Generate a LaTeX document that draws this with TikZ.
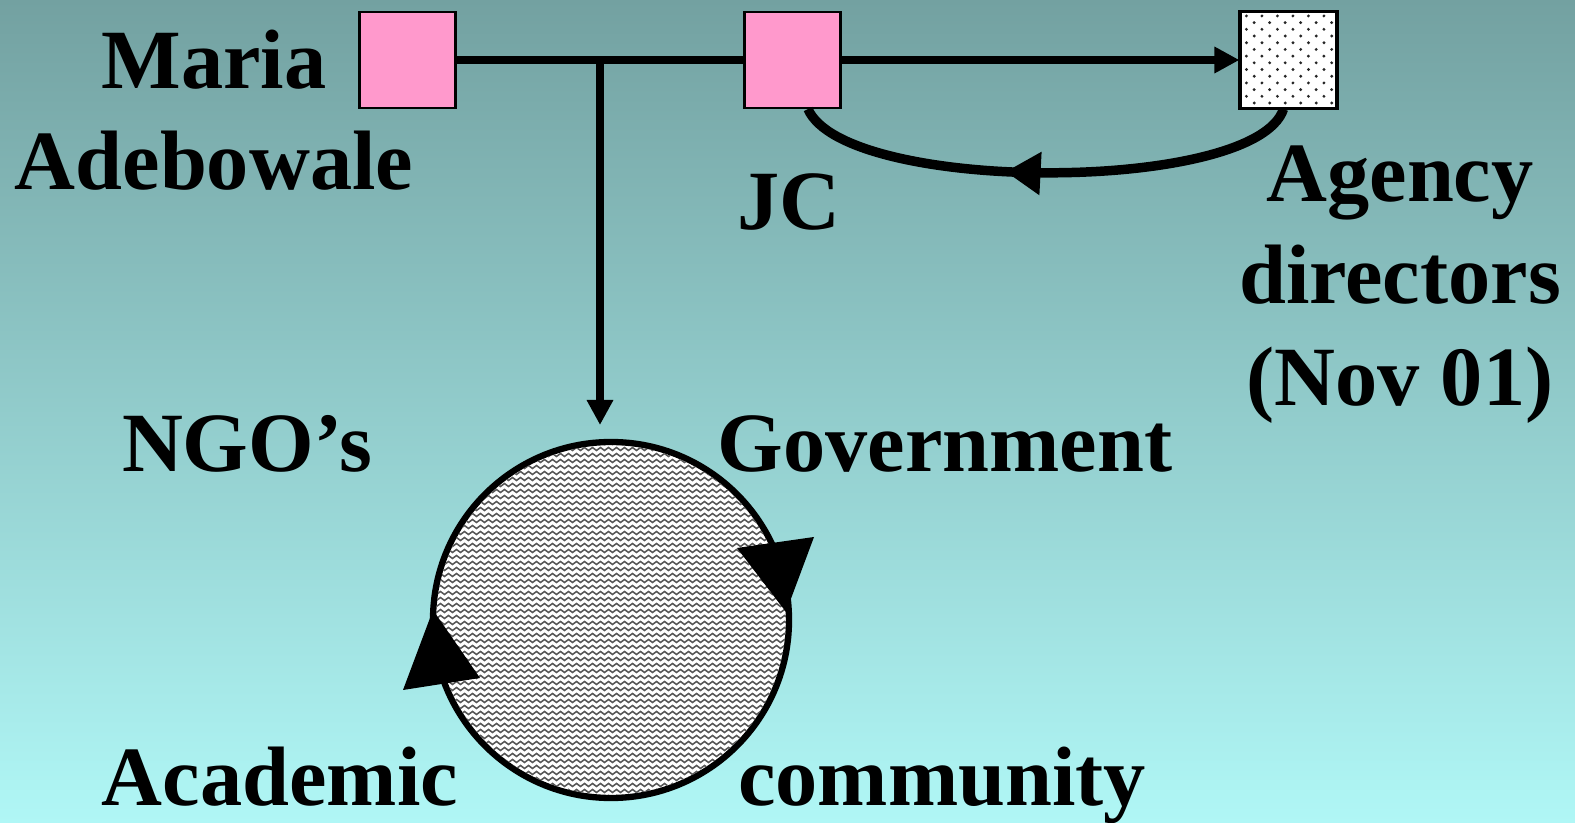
\documentclass[tikz,border=0pt]{standalone}
\usepackage{fontspec}
\setmainfont{Liberation Serif}
\usetikzlibrary{arrows.meta, positioning, calc, decorations.pathmorphing, decorations.markings}
\definecolor{bgtop}{HTML}{73A1A1}
\definecolor{bgbot}{HTML}{B0F7F6}
\definecolor{rosepink}{HTML}{FF99CC}

\begin{document}
\begin{tikzpicture}[
  sq/.style={rectangle, draw, line width=0.6pt, minimum size=0.96cm, inner sep=0pt},
  lbl/.style={align=center, anchor=base, inner sep=0pt, font=\fontsize{24}{29}\selectfont\bfseries},
  link/.style={line width=2.5pt},
  arr/.style={line width=2.5pt, -{Triangle[length=0.25cm, width=0.25cm]}},
  backarr/.style={line width=2.7pt, postaction={decorate},
    decoration={markings, mark=at position 0.58 with {\arrow{Triangle[length=0.35cm, width=0.41cm]}}}},
  wave/.style={black!65, line width=0.45pt, decorate,
    decoration={snake, segment length=0.08cm, amplitude=0.015cm}},
]
  \shade[top color=bgtop, bottom color=bgbot] (0,0) rectangle (15.75,-8.23);
  \useasboundingbox (0,0) rectangle (15.75,-8.23);

  % people and agencies
  \node[sq, fill=rosepink] (sqM) at (4.075,-0.60) {};
  \node[sq, fill=rosepink] (sqJ) at (7.925,-0.60) {};
  \node[sq, fill=white] (sqA) at (12.885,-0.60) {};
  \begin{scope}
    \clip (sqA.south west) rectangle (sqA.north east);
    \foreach \r in {0,...,14}
      \foreach \c in {0,...,6}
        \fill[black!85] ($(sqA.north west)+({0.07+\c*0.155+mod(\r,2)*0.0775},{-0.05-\r*0.067})$) circle (0.016);
  \end{scope}
  \draw[sq] (sqA.south west) rectangle (sqA.north east);

  \node[lbl] (maria) at (2.14,-1.90) {Maria\\Adebowale};
  \node[lbl] (jclbl) at (7.89,-2.30) {JC};
  \node[lbl] (agency) at (14.00,-4.05) {Agency\\directors\\(Nov 01)};

  % links
  \coordinate (jn) at ($(sqM.east)!0.5!(sqJ.west)$);
  \coordinate (drop) at (jn |- 0,-4.25);
  \draw[link] (sqM) -- (sqJ);
  \draw[arr] (sqJ) -- (sqA);
  \draw[arr] (jn) -- (drop);
  \draw[backarr] ([xshift=-0.05cm]sqA.south) .. controls +(-0.28,-0.85) and +(0.37,-0.85) .. ([xshift=0.155cm]sqJ.south);

  % cycle
  \node[circle, draw, line width=1.8pt, fill=white, minimum size=3.56cm, inner sep=0pt] (cyc) at (6.11,-6.20) {};
  \begin{scope}
    \clip (cyc.center) circle (1.75);
    \foreach \k in {0,...,60}
      \draw[wave] (4.30,-4.43-\k*0.06) -- (7.95,-4.43-\k*0.06);
  \end{scope}
  \begin{scope}[shift={(cyc.center)}]
    \fill (1.75,0.08) -- (1.26,0.72) -- (2.03,0.83) -- cycle;
    \fill (-1.78,0.10) -- (-2.08,-0.70) -- (-1.31,-0.58) -- cycle;
  \end{scope}

  \node[lbl] (ngo) at (2.47,-4.72) {NGO’s};
  \node[lbl] (govt) at (9.45,-4.72) {Government};
  \node[lbl] (acad) at (2.80,-8.05) {Academic};
  \node[lbl] (comm) at (9.42,-8.06) {community};
\end{tikzpicture}
\end{document}
